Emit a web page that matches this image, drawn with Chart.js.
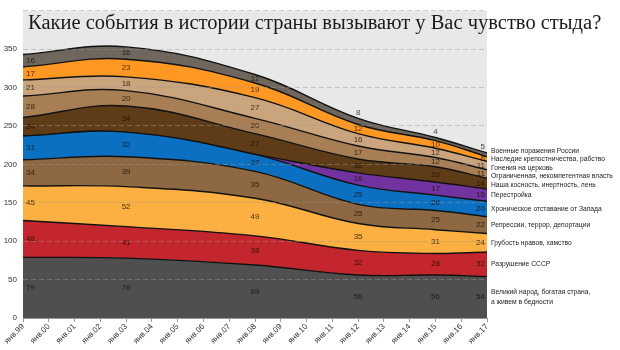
<!DOCTYPE html>
<html>
<head>
<meta charset="utf-8">
<script src="https://cdn.jsdelivr.net/npm/chart.js@4"></script>
<style>
  html, body { margin: 0; padding: 0; background: #fff; }
  #wrap { width: 620px; height: 350px; }
</style>
</head>
<body>
<div id="wrap"><canvas id="shame"></canvas></div>
<script>
    'use strict';

    // survey waves (January of each year)
    var years = [1999, 2003, 2008, 2012, 2015, 2017];

    // answers, bottom of the stack first
    var seriesNames = [
        'Великий народ, богатая страна,\nа живем в бедности',
        'Разрушение СССР',
        'Грубость нравов, хамство',
        'Репрессии, террор, депортации',
        'Хроническое отставание от Запада',
        'Перестройка',
        'Наша косность, инертность, лень',
        'Ограниченная, некомпетентная власть',
        'Гонения на церковь',
        'Наследие крепостничества, рабство',
        'Военные поражения России'
    ];

    var poverty      = [79, 78, 69, 56, 56, 54];
    var ussrCollapse = [48, 41, 38, 32, 28, 32];
    var rudeness     = [45, 52, 49, 35, 31, 24];
    var repressions  = [34, 39, 35, 25, 25, 22];
    var lagBehind    = [31, 32, 22, 25, 20, 20];
    var perestroika  = [0, 0, 0, 16, 17, 16];
    var inertia      = [24, 34, 27, 18, 20, 14];
    var badPower     = [28, 20, 20, 17, 12, 11];
    var churchPersec = [21, 18, 27, 16, 12, 11];
    var serfdom      = [17, 23, 19, 12, 10, 6];
    var warDefeats   = [16, 16, 11, 8, 4, 5];

    var seriesValues = [poverty, ussrCollapse, rudeness, repressions, lagBehind,
        perestroika, inertia, badPower, churchPersec, serfdom, warDefeats];

    var seriesColors = ['#4f4f4f', '#c3262d', '#fbb041', '#8d6842', '#0b70c2',
        '#7232a0', '#5f3c18', '#a87f55', '#c9a47c', '#ff9822', '#6f665d'];

    var yTicks = [0, 50, 100, 150, 200, 250, 300, 350, 400];

    var datasets = seriesValues.map(function (vals, i) {
        return {
            label: seriesNames[i],
            data: vals.map(function (v, j) { return { x: years[j], y: v }; }),
            backgroundColor: seriesColors[i],
            borderColor: '#111',
            borderWidth: 1.4,
            fill: i === 0 ? 'origin' : '-1',
            tension: 0.4,
            pointRadius: 0
        };
    });

    // grey panel behind the plot
    var panel = {
        id: 'panel',
        beforeDraw: function (chart) {
            var a = chart.chartArea, ctx = chart.ctx;
            ctx.save();
            ctx.fillStyle = '#e8e8e8';
            ctx.fillRect(a.left, a.top, a.right - a.left, a.bottom - a.top);
            ctx.restore();
        }
    };

    // numbers inside the bands, names at the right end of the stack
    var bandLabels = {
        id: 'bandLabels',
        afterDatasetsDraw: function (chart) {
            var ctx = chart.ctx, a = chart.chartArea, yScale = chart.scales.y;
            var n = seriesValues.length, last = years.length - 1;
            var basePx = yScale.getPixelForValue(0);

            ctx.save();
            ctx.font = '8px "Liberation Sans", sans-serif';
            ctx.fillStyle = 'rgba(20,10,0,0.78)';
            ctx.textBaseline = 'middle';

            for (var i = 0; i < n; i++) {
                var pts = chart.getDatasetMeta(i).data;
                var below = i > 0 ? chart.getDatasetMeta(i - 1).data : null;
                for (var j = 0; j < years.length; j++) {
                    var v = seriesValues[i][j];
                    if (!v) continue;
                    var top = pts[j].y;
                    var bottom = below ? below[j].y : basePx;
                    var y = (top + bottom) / 2;
                    if (i === n - 1 && v < 10) y = top - 6;
                    var x = pts[j].x;
                    if (j === 0) { ctx.textAlign = 'left'; x += 3; }
                    else if (j === last) { ctx.textAlign = 'right'; x -= 2; }
                    else ctx.textAlign = 'center';
                    ctx.fillText(String(v), x, y);
                }
            }

            // right-hand names, spread apart so they don't overlap
            var items = [];
            for (i = n - 1; i >= 0; i--) {
                var p = chart.getDatasetMeta(i).data[last].y;
                var b = i > 0 ? chart.getDatasetMeta(i - 1).data[last].y : basePx;
                var lines = seriesNames[i].split('\n');
                items.push({ lines: lines, y: (p + b) / 2, h: lines.length * 8.5 });
            }
            for (var it = 0; it < 200; it++) {
                for (var k = 1; k < items.length; k++) {
                    var need = (items[k - 1].h + items[k].h) / 2;
                    var gap = items[k].y - items[k - 1].y;
                    if (gap < need) {
                        var d = (need - gap) / 2;
                        items[k - 1].y -= d;
                        items[k].y += d;
                    }
                }
            }

            // narrow the text a little so the longest name fits the margin
            ctx.font = '8px "Liberation Sans", sans-serif';
            ctx.fillStyle = '#222';
            ctx.textAlign = 'left';
            var squeeze = 0.84;
            ctx.translate(a.right + 4, 0);
            ctx.scale(squeeze, 1);
            items.forEach(function (item) {
                var y0 = item.y - (item.lines.length - 1) * 5;
                item.lines.forEach(function (ln, m) {
                    ctx.fillText(ln, 0, y0 + m * 10);
                });
            });
            ctx.restore();
        }
    };

    // heading laid over the top of the panel
    var heading = {
        id: 'heading',
        afterDraw: function (chart) {
            var ctx = chart.ctx;
            ctx.save();
            ctx.font = '20.5px "Liberation Serif", serif';
            ctx.fillStyle = '#1a1a1a';
            ctx.textAlign = 'left';
            ctx.textBaseline = 'middle';
            ctx.fillText('Какие события в истории страны вызывают у Вас чувство стыда?', 28, 24);
            ctx.restore();
        }
    };

    new Chart(document.getElementById('shame'), {
        type: 'line',
        data: { datasets: datasets },
        options: {
            responsive: true,
            maintainAspectRatio: false,
            animation: false,
            layout: { padding: { top: 8, right: 133, left: 0, bottom: 0 } },
            plugins: {
                legend: { display: false },
                tooltip: { enabled: false },
                filler: { propagate: false }
            },
            scales: {
                x: {
                    type: 'linear',
                    min: 1999,
                    max: 2017,
                    afterBuildTicks: function (axis) {
                        var t = [];
                        for (var yr = 1999; yr <= 2017; yr++) t.push({ value: yr });
                        axis.ticks = t;
                    },
                    afterFit: function (axis) { axis.height = 32; },
                    border: { display: true, color: '#9a9a9a' },
                    grid: { drawOnChartArea: false, drawTicks: true, tickLength: 4, color: '#9a9a9a' },
                    ticks: {
                        autoSkip: false,
                        minRotation: 45,
                        maxRotation: 45,
                        padding: 0,
                        color: '#333',
                        font: { size: 8, family: 'Liberation Sans' },
                        callback: function (v) { return 'янв.' + String(v).slice(2); }
                    }
                },
                y: {
                    stacked: true,
                    min: 0,
                    max: 400,
                    afterBuildTicks: function (axis) {
                        axis.ticks = yTicks.map(function (v) { return { value: v }; });
                    },
                    afterFit: function (axis) { axis.width = 23; },
                    border: { display: false, dash: [5, 3] },
                    grid: {
                        z: 1,
                        drawTicks: false,
                        color: 'rgba(150,150,150,0.45)',
                        lineWidth: 1
                    },
                    ticks: {
                        padding: 6,
                        color: '#333',
                        font: { size: 8, family: 'Liberation Sans' },
                        // the top line sits under the heading, so it stays unlabelled
                        callback: function (v) { return v === 400 ? '' : v; }
                    }
                }
            }
        },
        plugins: [panel, bandLabels, heading]
    });
</script>
</body>
</html>
